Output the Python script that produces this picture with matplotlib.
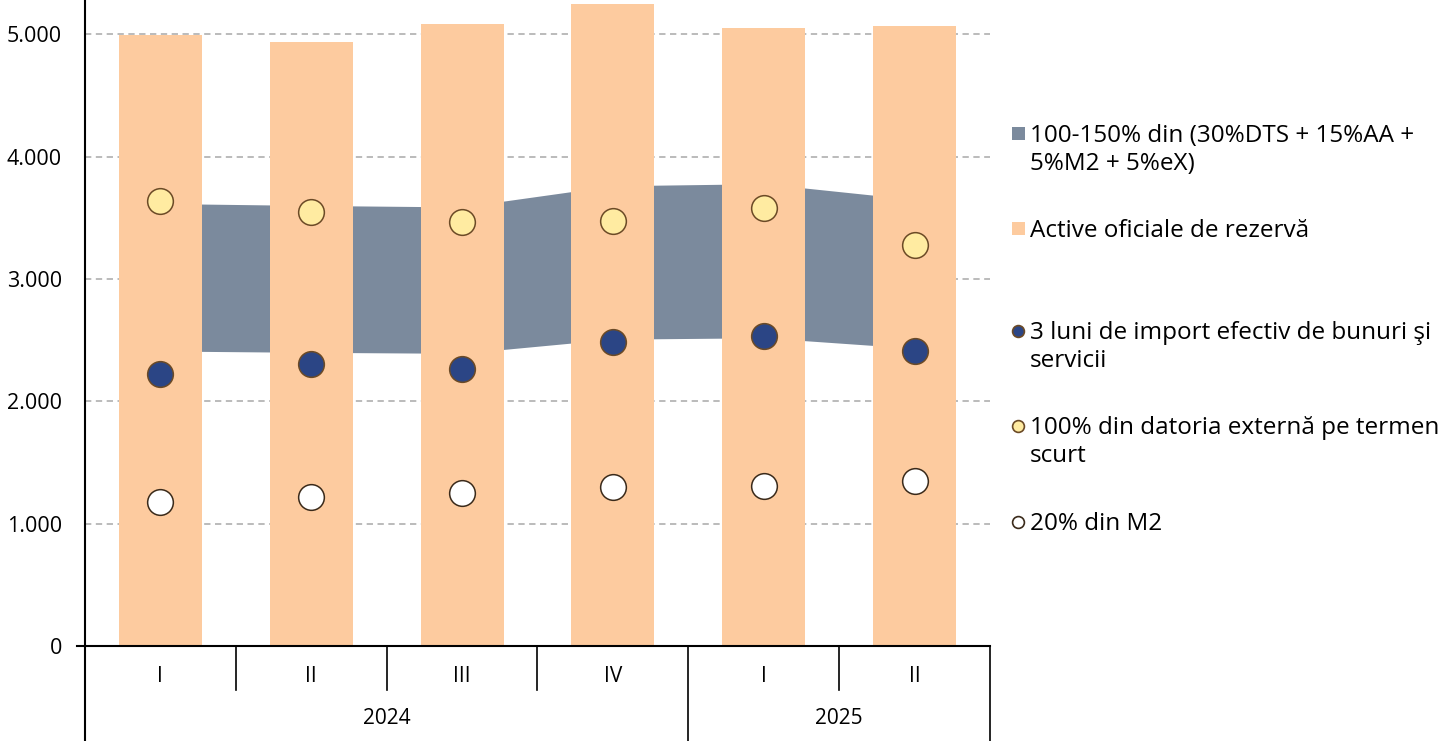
import matplotlib
matplotlib.use("Agg")
import matplotlib.pyplot as plt
from matplotlib.lines import Line2D
from matplotlib.patches import Rectangle
import matplotlib.transforms as mtransforms

plt.rcParams['font.family'] = ['Open Sans', 'DejaVu Sans']

# ---- data ----
quarters = ["I", "II", "III", "IV", "I", "II"]
years = ["2024", "2025"]
year_spans = [(0, 3), (4, 5)]
reserves = [4995, 4940, 5085, 5250, 5050, 5070]
band_low = [2412, 2401, 2393, 2509, 2520, 2434]
band_high = [3618, 3602, 3590, 3763, 3780, 3651]
imports3m = [2222, 2303, 2265, 2483, 2532, 2409]
short_debt = [3636, 3546, 3464, 3472, 3579, 3276]
m2_20 = [1175, 1218, 1248, 1300, 1308, 1347]
yticks = [0, 1000, 2000, 3000, 4000, 5000]
ytick_labels = ["0", "1.000", "2.000", "3.000", "4.000", "5.000"]

legend_labels = [
    "100-150% din (30%DTS + 15%AA +\n5%M2 + 5%eX)",
    "Active oficiale de rezervă",
    "3 luni de import efectiv de bunuri şi\nservicii",
    "100% din datoria externă pe termen\nscurt",
    "20% din M2",
]

# ---- style ----
c_band = "#7b8a9d"
c_bar = "#fdcb9f"
c_navy = "#2b4585"
c_yellow = "#ffeba1"
c_white = "#ffffff"
c_edge = "#6b4a26"
c_grid = "#b5b5b5"

W, H = 1451, 741
fig = plt.figure(figsize=(W / 100, H / 100), dpi=100)
ax_l, ax_r, ax_b, ax_t = 85, 990, 646, 0
ax = fig.add_axes([ax_l / W, (H - ax_b) / H, (ax_r - ax_l) / W, (ax_b - ax_t) / H])

x = list(range(len(quarters)))
ymax = 5282
ax.set_xlim(-0.5, len(quarters) - 0.5)
ax.set_ylim(0, ymax)

# gridlines
for yv in yticks[1:]:
    ax.axhline(yv, color=c_grid, lw=1.3, ls=(0, (3.5, 2.5)), zorder=0)

ax.fill_between(x, band_low, band_high, color=c_band, lw=0, zorder=1)
ax.bar(x, reserves, width=0.55, color=c_bar, zorder=2)

ms = 18.5
mew = 1.1
ax.plot(x, short_debt, ls="none", marker="o", ms=ms, mfc=c_yellow, mec=c_edge, mew=mew, zorder=3)
ax.plot(x, imports3m, ls="none", marker="o", ms=ms, mfc=c_navy, mec=c_edge, mew=mew, zorder=3)
ax.plot(x, m2_20, ls="none", marker="o", ms=ms, mfc=c_white, mec="#3a2a1a", mew=mew, zorder=3)

for s in ax.spines.values():
    s.set_visible(False)
ax.set_xticks([])
ax.set_yticks(yticks)
ax.set_yticklabels(ytick_labels, fontsize=15.5)
ax.tick_params(axis="y", length=0, pad=16.5)

# axes lines
trans = mtransforms.blended_transform_factory(ax.transData, ax.transAxes)
px_y = lambda py: (ax_b - py) / (ax_b - ax_t)
ax.plot([-0.5 - 8 / 150.8, len(quarters) - 0.5], [0, 0], color="black", lw=1.5, clip_on=False, zorder=4)
ax.plot([-0.5, -0.5], [px_y(H + 5), 1], transform=trans, color="black", lw=1.5, clip_on=False, zorder=4)

# category axis
for b in range(1, len(quarters) + 1):
    xb = b - 0.5
    is_year_edge = b == len(quarters) or any(b == s for s, e in year_spans[1:])
    y_end = px_y(H + 5) if is_year_edge else px_y(690)
    ax.plot([xb, xb], [0, y_end], transform=trans, color="black", lw=1.2, clip_on=False)

for i, q in enumerate(quarters):
    ax.text(i, px_y(676), q, transform=trans, ha="center", va="center", fontsize=15)
for yr, (s, e) in zip(years, year_spans):
    ax.text((s + e) / 2, px_y(719), yr, transform=trans, ha="center", va="center", fontsize=15)

# legend (manual) - baseline of first line of each entry, in pixels from top
leg_base = [142, 237, 339, 434, 530]
line_gap = 28
hx = 1018
tx = 1030
for i, (lab, yb) in enumerate(zip(legend_labels, leg_base)):
    for k, line in enumerate(lab.split("\n")):
        fig.text(tx / W, (H - (yb + k * line_gap)) / H, line, ha="left", va="baseline",
                 fontsize=17.5)
    yc = yb - 8.5
    if i < 2:
        col = c_band if i == 0 else c_bar
        fig.add_artist(Rectangle(((hx - 6.5) / W, (H - yc - 6.5) / H), 13 / W, 13 / H,
                                 transform=fig.transFigure, color=col, lw=0))
    else:
        fc = [c_navy, c_yellow, c_white][i - 2]
        ec = "#3a2a1a" if i == 4 else c_edge
        fig.add_artist(Line2D([hx / W], [(H - yc) / H], transform=fig.transFigure, marker="o",
                              ms=8.5, mfc=fc, mec=ec, mew=1.2, ls="none"))

fig.savefig("out.png", dpi=100)
